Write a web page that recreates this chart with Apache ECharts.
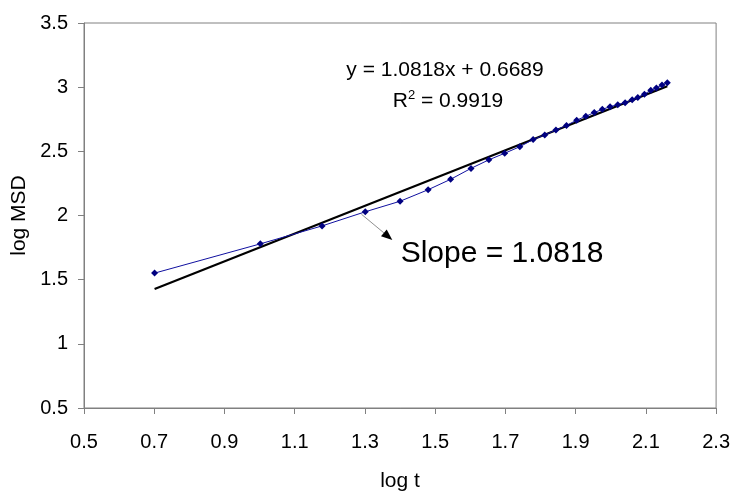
<!DOCTYPE html>
<html>
<head>
<meta charset="utf-8">
<script src="https://cdn.jsdelivr.net/npm/echarts@6/dist/echarts.min.js"></script>
<style>
  html, body { margin: 0; padding: 0; background: #fff; }
  #chart { width: 733px; height: 497px; }
</style>
</head>
<body>
<div id="chart"></div>
<script>
// log t values of the measured points
const logT = [0.701, 1.002, 1.178, 1.301, 1.400, 1.480, 1.544, 1.602, 1.653, 1.698,
  1.741, 1.779, 1.812, 1.844, 1.874, 1.903, 1.929, 1.953, 1.976, 1.998,
  2.020, 2.041, 2.061, 2.077, 2.096, 2.114, 2.130, 2.146, 2.161];
// log MSD values of the measured points
const logMSD = [1.551, 1.779, 1.919, 2.029, 2.111, 2.201, 2.282, 2.367, 2.434, 2.485,
  2.536, 2.592, 2.628, 2.666, 2.702, 2.743, 2.773, 2.802, 2.827, 2.848,
  2.863, 2.879, 2.902, 2.919, 2.945, 2.976, 2.994, 3.017, 3.034];

// linear fit
const slope = 1.0818;
const intercept = 0.6689;
const r2 = 0.9919;

const xMin = 0.5, xMax = 2.3, xStep = 0.2;
const yMin = 0.5, yMax = 3.5, yStep = 0.5;

const FONT = '"Liberation Sans", Arial, sans-serif';
const AXIS_GRAY = '#808080';

const points = logT.map((x, i) => [x, logMSD[i]]);
const fitStart = logT[0], fitEnd = logT[logT.length - 1];
const fitLine = [
  [fitStart, slope * fitStart + intercept],
  [fitEnd, slope * fitEnd + intercept]
];

const chart = echarts.init(document.getElementById('chart'), null, { renderer: 'canvas' });

chart.setOption({
  animation: false,
  backgroundColor: '#fff',
  grid: {
    left: 84, right: 15, top: 23, bottom: 83,
    show: true, borderColor: AXIS_GRAY, borderWidth: 1, backgroundColor: 'transparent'
  },
  xAxis: {
    type: 'value', min: xMin, max: xMax, interval: xStep,
    name: 'log t', nameLocation: 'middle', nameGap: 63,
    nameTextStyle: { fontFamily: FONT, fontSize: 21, color: '#000' },
    axisLine: { show: true, lineStyle: { color: AXIS_GRAY, width: 1 } },
    axisTick: { show: true, inside: false, length: 6, lineStyle: { color: AXIS_GRAY } },
    axisLabel: {
      fontFamily: FONT, fontSize: 20, color: '#000', margin: 24,
      formatter: v => (+v.toFixed(1)).toString()
    },
    splitLine: { show: false }
  },
  yAxis: {
    type: 'value', min: yMin, max: yMax, interval: yStep,
    name: 'log MSD', nameLocation: 'middle', nameGap: 54, nameRotate: 90,
    nameTextStyle: { fontFamily: FONT, fontSize: 21, color: '#000' },
    axisLine: { show: true, lineStyle: { color: AXIS_GRAY, width: 1 } },
    axisTick: { show: true, inside: false, length: 6, lineStyle: { color: AXIS_GRAY } },
    axisLabel: {
      fontFamily: FONT, fontSize: 20, color: '#000', margin: 16,
      formatter: v => (+v.toFixed(1)).toString()
    },
    splitLine: { show: false }
  },
  series: [
    {
      name: 'fit',
      type: 'line',
      data: fitLine,
      showSymbol: false,
      symbol: 'none',
      lineStyle: { color: '#000', width: 2.2 },
      z: 2
    },
    {
      name: 'MSD',
      type: 'line',
      data: points,
      symbol: 'diamond',
      symbolSize: 7,
      itemStyle: { color: '#000080' },
      lineStyle: { color: '#1010a0', width: 1 },
      z: 3
    }
  ]
});

// Annotation: fit equation, R², and the slope callout with its arrow
const tail = chart.convertToPixel({ gridIndex: 0 }, [1.29, 2.01]);
const tip = chart.convertToPixel({ gridIndex: 0 }, [1.378, 1.81]);
const ang = Math.atan2(tip[1] - tail[1], tip[0] - tail[0]);
const headLen = 11, headHalf = 4.5;
const base = [tip[0] - headLen * Math.cos(ang), tip[1] - headLen * Math.sin(ang)];
const nx = -Math.sin(ang), ny = Math.cos(ang);

chart.setOption({
  graphic: [
    {
      type: 'text',
      x: 445, y: 70,
      style: {
        text: 'y = ' + slope.toFixed(4) + 'x + ' + intercept.toFixed(4),
        font: '21px ' + FONT, fill: '#000', textAlign: 'center', textVerticalAlign: 'middle'
      }
    },
    {
      type: 'text',
      x: 448, y: 101,
      style: {
        text: '{r|R}{sup|2}{r| = ' + r2.toFixed(4) + '}',
        textAlign: 'center', textVerticalAlign: 'middle',
        rich: {
          r: { font: '21px ' + FONT, fill: '#000', color: '#000' },
          sup: { font: '13px ' + FONT, fill: '#000', color: '#000', verticalAlign: 'top', padding: [0, 0, 11, 0] }
        }
      }
    },
    {
      type: 'text',
      x: 502, y: 254,
      style: {
        text: 'Slope = ' + slope.toFixed(4),
        font: '30px ' + FONT, fill: '#000', textAlign: 'center', textVerticalAlign: 'middle'
      }
    },
    {
      type: 'line',
      shape: { x1: tail[0], y1: tail[1], x2: base[0], y2: base[1] },
      style: { stroke: '#909090', lineWidth: 1 }
    },
    {
      type: 'polygon',
      shape: {
        points: [
          [tip[0], tip[1]],
          [base[0] + nx * headHalf, base[1] + ny * headHalf],
          [base[0] - nx * headHalf, base[1] - ny * headHalf]
        ]
      },
      style: { fill: '#000' }
    }
  ]
});
</script>
</body>
</html>
